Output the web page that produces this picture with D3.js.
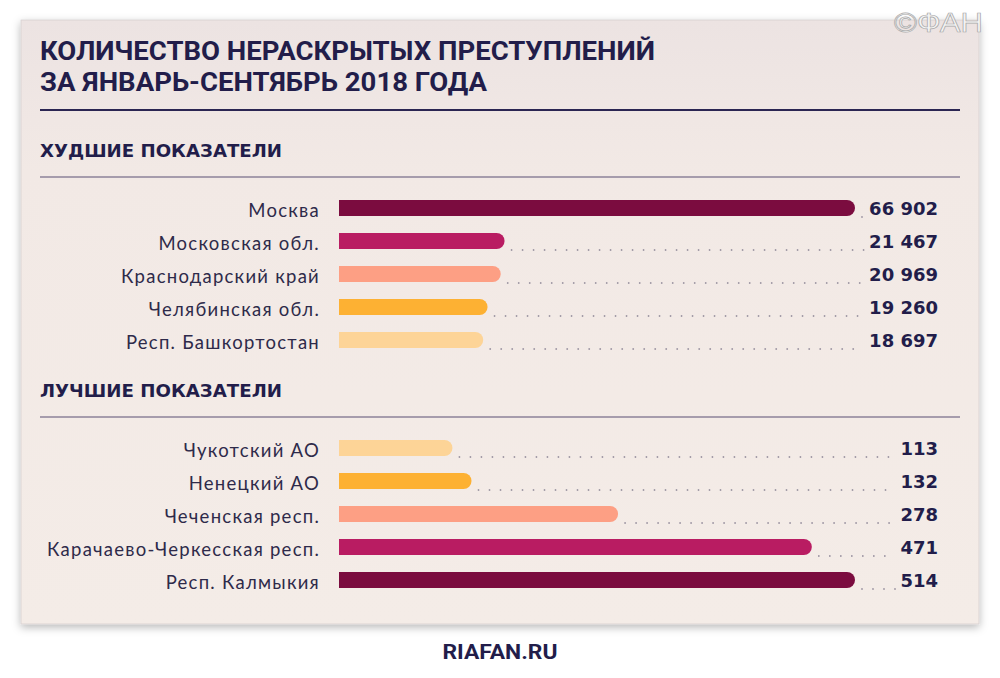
<!DOCTYPE html>
<html><head><meta charset="utf-8">
<script src="https://cdn.jsdelivr.net/npm/d3@7"></script>
<style>
html,body{margin:0;padding:0;background:#fff;}
svg{display:block;}
</style></head>
<body>
<svg id="chart" width="1000" height="678"></svg>
<script>
const titleLines = ["КОЛИЧЕСТВО НЕРАСКРЫТЫХ ПРЕСТУПЛЕНИЙ", "ЗА ЯНВАРЬ-СЕНТЯБРЬ 2018 ГОДА"];
const worstTitle = "ХУДШИЕ ПОКАЗАТЕЛИ";
const bestTitle = "ЛУЧШИЕ ПОКАЗАТЕЛИ";
const worstNames = ["Москва", "Московская обл.", "Краснодарский край", "Челябинская обл.", "Респ. Башкортостан"];
const worstValues = [66902, 21467, 20969, 19260, 18697];
const worstColors = ["#7b0c3f", "#b91c62", "#fd9f84", "#fdb133", "#fdd497"];
const bestNames = ["Чукотский АО", "Ненецкий АО", "Чеченская респ.", "Карачаево-Черкесская респ.", "Респ. Калмыкия"];
const bestValues = [113, 132, 278, 471, 514];
const bestColors = ["#fdd497", "#fdb133", "#fd9f84", "#b91c62", "#7b0c3f"];
const sourceText = "RIAFAN.RU";
const logoText = "©ФАН";

const svg = d3.select("#chart");
const NAVY = "#221d4a";
const fmt = v => d3.format(",")(v).replace(/,/g, " ");

const defs = svg.append("defs");
const f = defs.append("filter").attr("id","sh").attr("x","-5%").attr("y","-5%").attr("width","110%").attr("height","112%");
f.append("feDropShadow").attr("dx",0).attr("dy",3).attr("stdDeviation",4).attr("flood-color","#000").attr("flood-opacity",0.28);
const g = defs.append("linearGradient").attr("id","bg").attr("x1",0).attr("y1",0).attr("x2",0).attr("y2",1);
g.append("stop").attr("offset","0").attr("stop-color","#ece3e2");
g.append("stop").attr("offset","0.25").attr("stop-color","#f2e9e5");
g.append("stop").attr("offset","1").attr("stop-color","#f4ece7");

// card
svg.append("rect").attr("x",21).attr("y",20).attr("width",958).attr("height",604)
  .attr("fill","url(#bg)").attr("stroke","#d6cfd0").attr("stroke-width",0.8).attr("filter","url(#sh)");

// logo
svg.append("text").attr("x",983).attr("y",32).attr("text-anchor","end")
  .attr("font-family","Liberation Sans, Arial, sans-serif").attr("font-size",28)
  .attr("fill","#f4f4f4").attr("stroke","#a8a8a8").attr("stroke-width",0.7)
  .attr("textLength",89).attr("lengthAdjust","spacingAndGlyphs")
  .text(logoText);

// title
const titleWidths = [615, 447];
titleLines.forEach((t,i)=>{
  svg.append("text").attr("x",40).attr("y",60+i*31)
    .attr("font-family","Roboto, sans-serif").attr("font-weight",700).attr("font-size",25)
    .attr("fill",NAVY).attr("textLength",titleWidths[i]).attr("lengthAdjust","spacingAndGlyphs")
    .text(t);
});
svg.append("line").attr("x1",40).attr("x2",960).attr("y1",110).attr("y2",110)
  .attr("stroke","#2b2552").attr("stroke-width",2);

function section(title, titleY, lineY, names, values, colors, y0) {
  svg.append("text").attr("x",40).attr("y",titleY)
    .attr("font-family","DejaVu Sans, sans-serif").attr("font-weight",700).attr("font-size",17)
    .attr("fill",NAVY).attr("textLength",242).attr("lengthAdjust","spacingAndGlyphs")
    .text(title);
  svg.append("line").attr("x1",40).attr("x2",960).attr("y1",lineY).attr("y2",lineY)
    .attr("stroke","#8c8299").attr("stroke-width",1.5);

  const x = d3.scaleLinear().domain([0, d3.max(values)]).range([339, 855]);
  const y = d3.scalePoint().domain(names).range([y0, y0 + 33*(names.length-1)]);
  const h = 16, r = 8;

  const rows = svg.append("g").selectAll("g").data(names).join("g");

  rows.append("text").attr("x",320).attr("y",d=>y(d)+9).attr("text-anchor","end")
    .attr("font-family","Lato, sans-serif").attr("font-size",18.5).attr("letter-spacing",1.25)
    .attr("fill","#2e2a4a").text(d=>d);

  rows.append("path").attr("fill",(d,i)=>colors[i])
    .attr("d",(d,i)=>{
      const x0 = x(0), x1 = x(values[i]), yc = y(d);
      const p = d3.path();
      p.moveTo(x0, yc-h/2);
      p.lineTo(x1-r, yc-h/2);
      p.arc(x1-r, yc, r, -Math.PI/2, Math.PI/2);
      p.lineTo(x0, yc+h/2);
      p.closePath();
      return p.toString();
    });

  const vals = rows.append("text").attr("x",938).attr("y",d=>y(d)+7).attr("text-anchor","end")
    .attr("font-family","DejaVu Sans, sans-serif").attr("font-weight",700).attr("font-size",18)
    .attr("fill",NAVY).text((d,i)=>fmt(values[i]));

  vals.each(function(d,i){
    const w = this.getComputedTextLength();
    const start = x(values[i]) + 7;
    const end = 938 - w - 5;
    const dots = d3.range(start, end, 11);
    d3.select(this.parentNode).selectAll("circle").data(dots).join("circle")
      .attr("cx",c=>c).attr("cy",y(d)+9).attr("r",0.9).attr("fill","#9d96a3");
  });
}

section(worstTitle, 157, 177, worstNames, worstValues, worstColors, 208);
section(bestTitle, 397, 417, bestNames, bestValues, bestColors, 448);

svg.append("text").attr("x",500).attr("y",659).attr("text-anchor","middle")
  .attr("font-family","Roboto, sans-serif").attr("font-weight",700).attr("font-size",21)
  .attr("fill",NAVY).attr("textLength",115).attr("lengthAdjust","spacingAndGlyphs").text(sourceText);
</script>
</body></html>
